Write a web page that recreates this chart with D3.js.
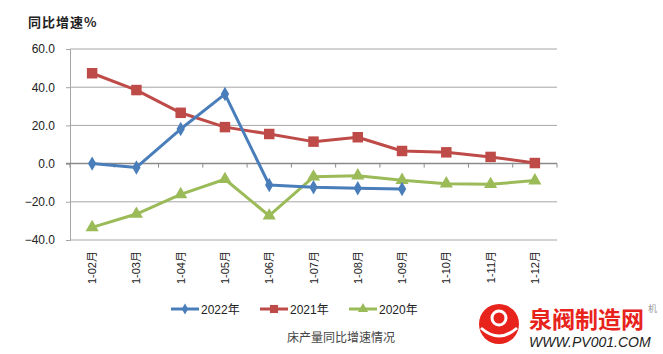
<!DOCTYPE html>
<html lang="zh">
  <head>
    <meta charset="UTF-8" />
    <title>床产量同比增速情况</title>
    <style>
      body {
        margin: 0;
        background: #fff;
        font-family: "Liberation Sans", "Noto Sans CJK SC", sans-serif;
      }
      svg {
        display: block;
      }
      .grid line {
        stroke: #a6a6a6;
        stroke-width: 1;
      }
      .tick-label {
        font-size: 12px;
        fill: #222;
      }
      .cat-label {
        font-size: 11px;
        fill: #222;
      }
      .legend-text {
        font-size: 12px;
        fill: #222;
      }
    </style>
  </head>
  <body>
    <script src="https://cdn.jsdelivr.net/npm/d3@7"></script>
    <script>
      const months = ["1-02月", "1-03月", "1-04月", "1-05月", "1-06月", "1-07月",
        "1-08月", "1-09月", "1-10月", "1-11月", "1-12月"];
      const values2022 = [0, -2.0, 18.1, 36.4, -11.2, -12.4, -12.9, -13.3];
      const values2021 = [47.3, 38.5, 26.6, 19.1, 15.5, 11.5, 13.8, 6.6, 5.9, 3.5, 0.3];
      const values2020 = [-33.4, -26.4, -16.1, -8.2, -27.3, -6.9, -6.3, -8.7, -10.5, -10.8, -8.9];
      const yTicks = [-40, -20, 0, 20, 40, 60];
      const seriesNames = ["2022年", "2021年", "2020年"];

      const width = 663, height = 354;
      const plotLeft = 70, plotRight = 557, plotTop = 49, plotBottom = 240;

      const svg = d3.select("body").append("svg")
        .attr("width", width)
        .attr("height", height);

      const x = d3.scaleBand().domain(months).range([plotLeft, plotRight]);
      const y = d3.scaleLinear().domain([-40, 60]).range([plotBottom, plotTop]);

      // title
      svg.append("text")
        .attr("x", 28).attr("y", 27)
        .attr("font-size", 13).attr("font-weight", "bold")
        .attr("fill", "#222")
        .attr("font-family", "Noto Sans CJK SC")
        .attr("letter-spacing", 1)
        .text("同比增速%");

      // gridlines (zero line drawn as axis)
      svg.append("g").attr("class", "grid")
        .selectAll("line")
        .data(yTicks.filter(d => d !== 0))
        .join("line")
        .attr("x1", plotLeft).attr("x2", plotRight)
        .attr("y1", d => y(d)).attr("y2", d => y(d));

      // y axis
      const yAxis = svg.append("g")
        .attr("transform", `translate(${plotLeft},0)`)
        .call(d3.axisLeft(y).tickValues(yTicks).tickSize(4).tickPadding(11)
          .tickFormat(d3.format(".1f")));
      yAxis.select(".domain").attr("stroke", "#a6a6a6");
      yAxis.selectAll(".tick line").attr("stroke", "#a6a6a6");
      yAxis.selectAll(".tick text")
        .attr("class", "tick-label")
        .attr("font-family", "Liberation Sans")
        .attr("font-size", 12.5)
        .attr("fill", "#222");

      // x axis at zero
      const bounds = months.map(m => x(m)).concat([plotRight]);
      const xAxis = svg.append("g");
      xAxis.append("line")
        .attr("x1", plotLeft - 4).attr("x2", plotRight)
        .attr("y1", y(0)).attr("y2", y(0))
        .attr("stroke", "#8a8a8a").attr("stroke-width", 1.5);
      xAxis.selectAll(".xt")
        .data(bounds)
        .join("line")
        .attr("class", "xt")
        .attr("x1", d => d).attr("x2", d => d)
        .attr("y1", y(0)).attr("y2", y(0) + 4)
        .attr("stroke", "#8a8a8a");

      // category labels, rotated
      svg.append("g")
        .selectAll("text")
        .data(months)
        .join("text")
        .attr("class", "cat-label")
        .attr("transform", d => `translate(${x(d) + x.bandwidth() / 2 + 4},251) rotate(-90)`)
        .attr("text-anchor", "end")
        .text(d => d);

      const cx = (d, i) => x(months[i]) + x.bandwidth() / 2;
      const line = d3.line().x(cx).y(d => y(d));

      const series = [
        { name: seriesNames[0], values: values2022, color: "#4a7ebb", marker: d3.symbolDiamond, size: 60 },
        { name: seriesNames[1], values: values2021, color: "#be4b48", marker: d3.symbolSquare, size: 110 },
        { name: seriesNames[2], values: values2020, color: "#9bbb59", marker: d3.symbolTriangle, size: 75 }
      ];

      // draw in reverse so 2022 is on top
      series.slice().reverse().forEach(s => {
        const g = svg.append("g");
        g.append("path")
          .datum(s.values)
          .attr("d", line)
          .attr("fill", "none")
          .attr("stroke", s.color)
          .attr("stroke-width", 3)
          .attr("stroke-linejoin", "round");
        g.selectAll("path.m")
          .data(s.values)
          .join("path")
          .attr("class", "m")
          .attr("transform", (d, i) => `translate(${cx(d, i)},${y(d)})`)
          .attr("d", d3.symbol().type(s.marker).size(s.size))
          .attr("fill", s.color);
      });

      // legend
      const legendX = [171, 260, 349];
      const legend = svg.append("g");
      series.forEach((s, i) => {
        const lg = legend.append("g").attr("transform", `translate(${legendX[i]},309)`);
        lg.append("line").attr("x1", 0).attr("x2", 28).attr("y1", 0).attr("y2", 0)
          .attr("stroke", s.color).attr("stroke-width", 3);
        lg.append("path").attr("transform", "translate(14,0)")
          .attr("d", d3.symbol().type(s.marker).size(s.size * 0.6))
          .attr("fill", s.color);
        lg.append("text").attr("class", "legend-text")
          .attr("x", 30).attr("y", 4.5)
          .text(s.name);
      });

      // caption
      svg.append("text")
        .attr("x", 341).attr("y", 342)
        .attr("text-anchor", "middle")
        .attr("font-size", 12)
        .attr("fill", "#444")
        .attr("font-family", "Noto Sans CJK SC")
        .text("床产量同比增速情况");

      // watermark
      const wm = svg.append("g");
      wm.append("circle").attr("cx", 499).attr("cy", 324).attr("r", 20).attr("fill", "#e8231c");
      wm.append("circle").attr("cx", 499).attr("cy", 318).attr("r", 7).attr("fill", "none")
        .attr("stroke", "#fff").attr("stroke-width", 3);
      wm.append("path").attr("d", "M481,328 Q499,344 517,328")
        .attr("fill", "none").attr("stroke", "#fff").attr("stroke-width", 3);
      wm.append("text").attr("x", 529).attr("y", 328)
        .attr("font-size", 23).attr("font-weight", "bold")
        .attr("fill", "#e8231c").attr("font-family", "Noto Sans CJK SC")
        .text("泉阀制造网");
      wm.append("text").attr("x", 648).attr("y", 312)
        .attr("font-size", 9).attr("fill", "#999")
        .attr("font-family", "Noto Sans CJK SC")
        .text("机");
      wm.append("text").attr("x", 529).attr("y", 347)
        .attr("font-size", 14).attr("font-style", "italic")
        .attr("fill", "#222")
        .text("WWW.PV001.COM");
    </script>
  </body>
</html>
